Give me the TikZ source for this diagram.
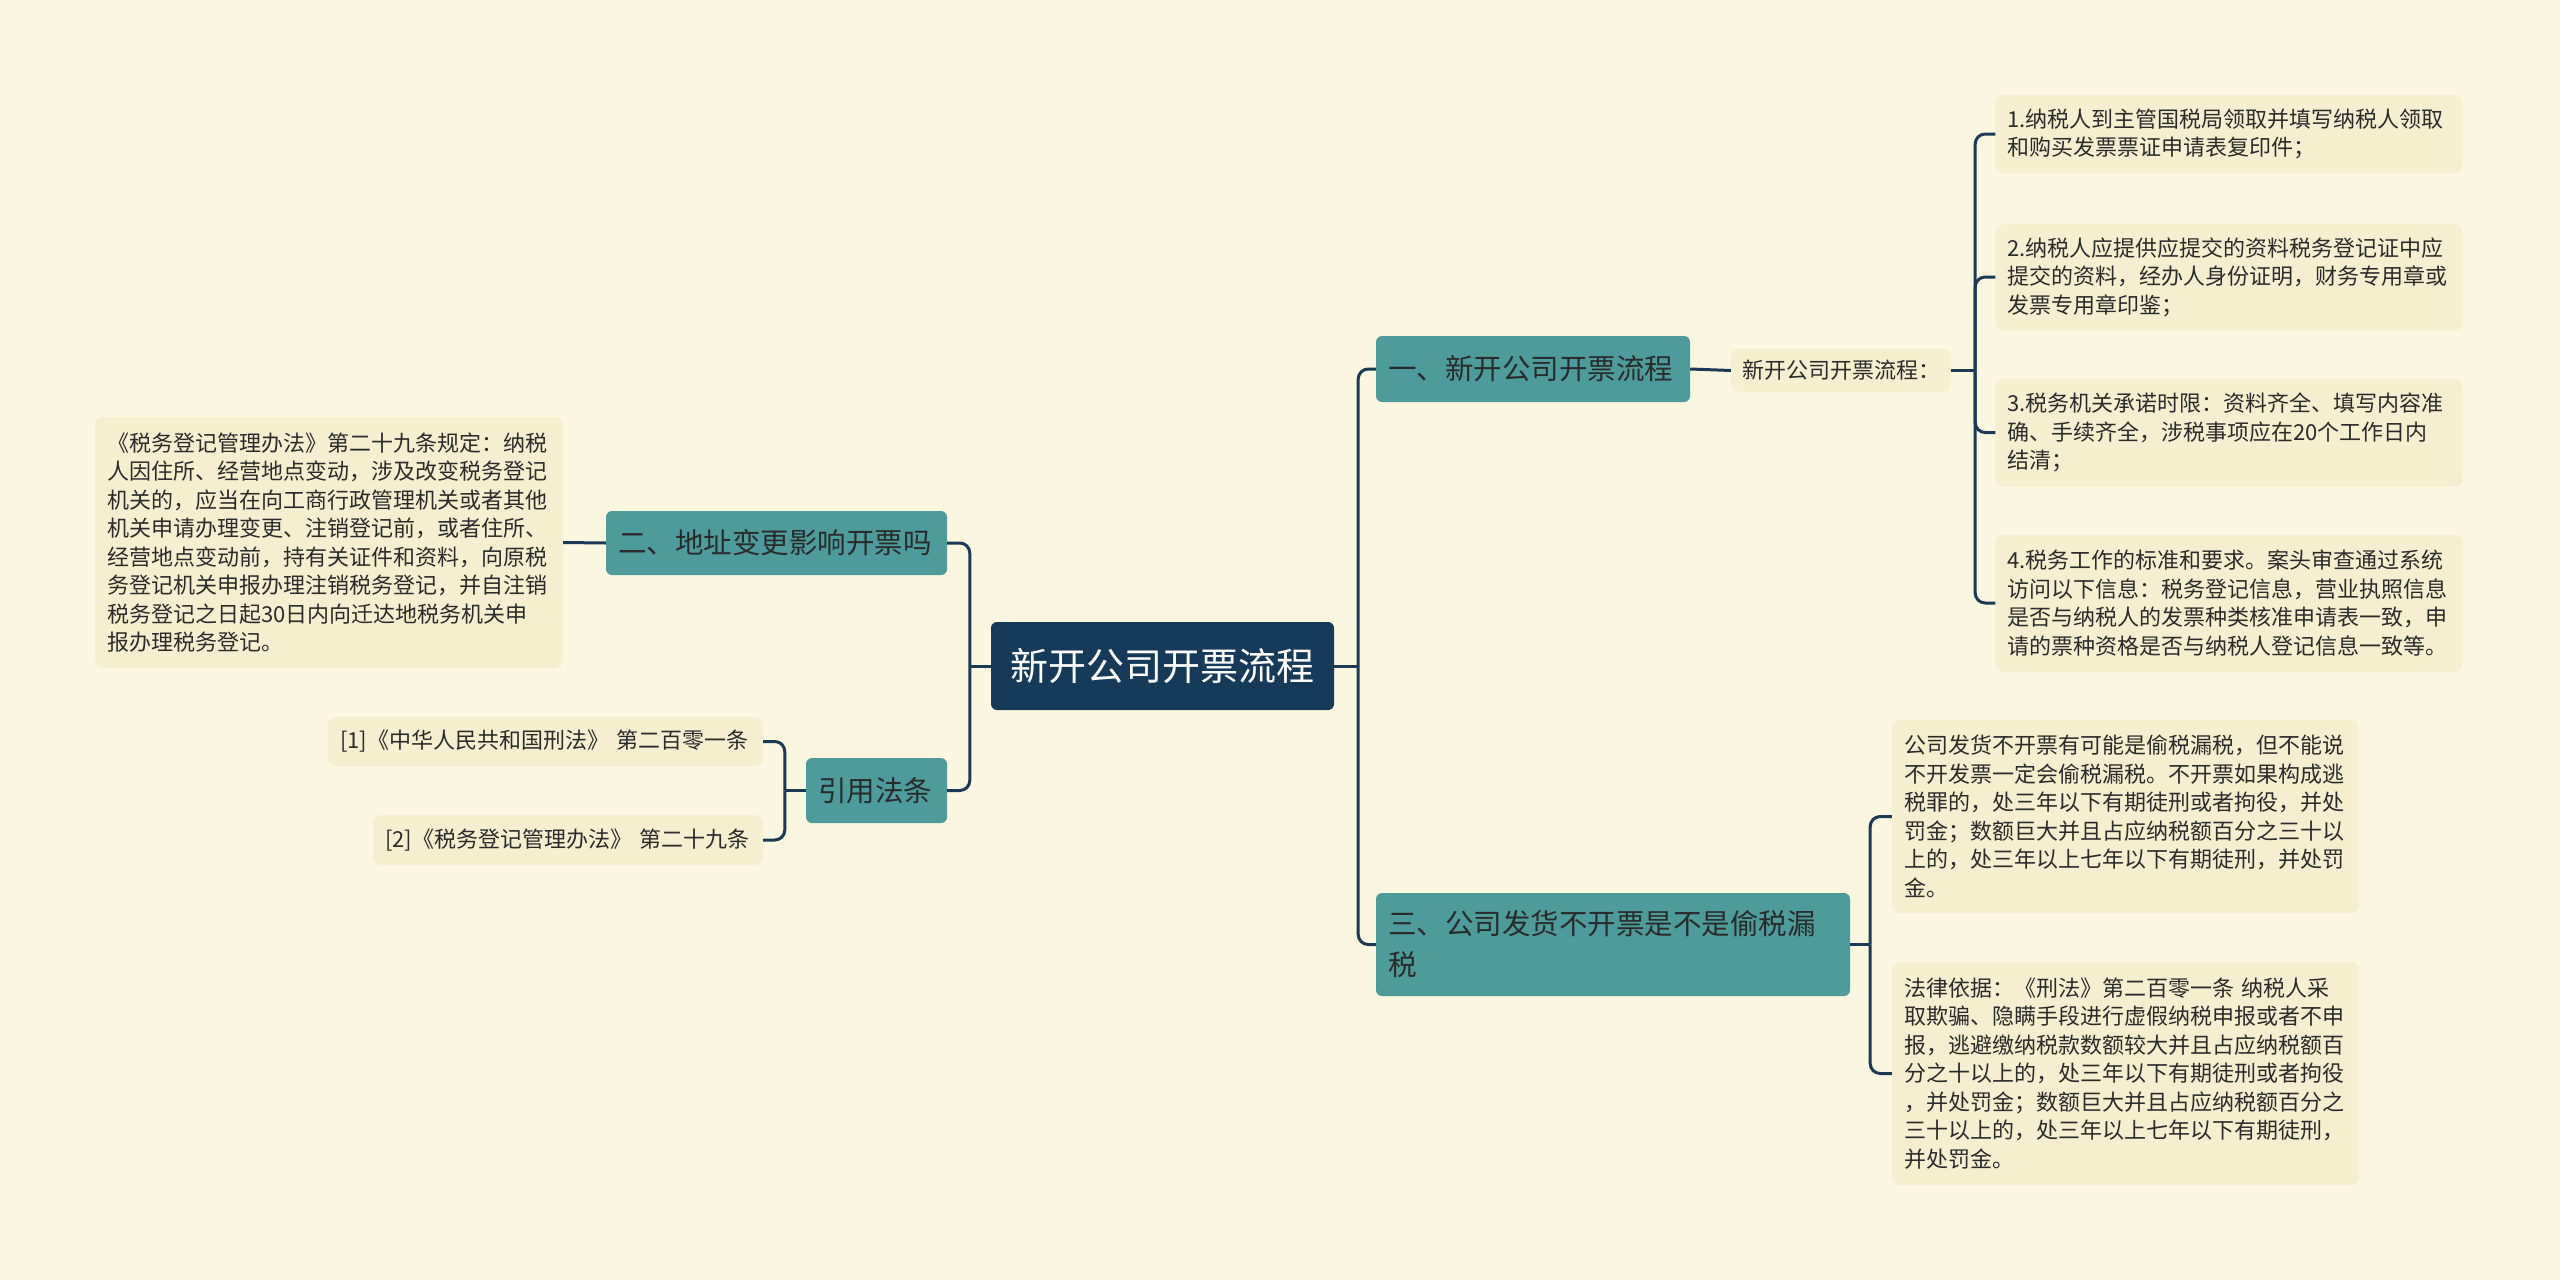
\documentclass[tikz,border=0pt]{standalone}
\usepackage{fontspec}
\setmainfont{Noto Sans CJK SC}
\usepackage{tikz}
\definecolor{bg}{HTML}{FBF6E0}
\definecolor{notefill}{HTML}{F5EFCF}
\definecolor{tealfill}{HTML}{4E9B9B}
\definecolor{navy}{HTML}{153A5A}
\definecolor{linec}{HTML}{1A3A55}
\definecolor{inkc}{HTML}{2B2B2B}
\tikzset{
  rootbox/.style={fill=navy, text=white, rounded corners=6pt, font=\fontsize{38}{44}\selectfont, inner sep=0pt},
  branch/.style={fill=tealfill, text=inkc, rounded corners=6pt, font=\fontsize{28.5}{41}\selectfont, align=left, inner xsep=12pt, inner ysep=0pt},
  note/.style={fill=notefill, text=inkc, rounded corners=8pt, font=\fontsize{22}{28.5}\selectfont, align=left, inner xsep=12pt, inner ysep=0pt},
  conn/.style={draw=linec, line width=3pt},
}

\begin{document}
\begin{tikzpicture}[x=1pt, y=-1pt]
  \fill[bg] (0,0) rectangle (2560,1280);
  \useasboundingbox (0,0) rectangle (2560,1280);

  % centre
  \node[rootbox, minimum width=343pt, minimum height=88pt] (R) at (1162.5,666) {新开公司开票流程};

  % right side
  \node[branch, minimum height=66pt, text width=290pt] (A) at (1533,369) {一、新开公司开票流程};
  \node[note, minimum height=43pt, inner xsep=11pt, text width=198pt] (A0) at (1841,370.5) {新开公司开票流程：};
  \node[note, minimum height=78pt, text width=443pt] (A1) at (2229,134) {1.纳税人到主管国税局领取并填写纳税人领取\\和购买发票票证申请表复印件；};
  \node[note, minimum height=106pt, text width=443pt] (A2) at (2229,277) {2.纳税人应提供应提交的资料税务登记证中应\\提交的资料，经办人身份证明，财务专用章或\\发票专用章印鉴；};
  \node[note, minimum height=108pt, text width=443pt] (A3) at (2229,432.5) {3.税务机关承诺时限：资料齐全、填写内容准\\确、手续齐全，涉税事项应在20个工作日内\\结清；};
  \node[note, minimum height=137pt, text width=443pt] (A4) at (2229,603) {4.税务工作的标准和要求。案头审查通过系统\\访问以下信息：税务登记信息，营业执照信息\\是否与纳税人的发票种类核准申请表一致，申\\请的票种资格是否与纳税人登记信息一致等。};

  \node[branch, minimum height=103pt, text width=450pt] (C) at (1613,944.5) {三、公司发货不开票是不是偷税漏\\税};
  \node[note, minimum height=193pt, text width=443pt] (C1) at (2125.5,816.5) {公司发货不开票有可能是偷税漏税，但不能说\\不开发票一定会偷税漏税。不开票如果构成逃\\税罪的，处三年以下有期徒刑或者拘役，并处\\罚金；数额巨大并且占应纳税额百分之三十以\\上的，处三年以上七年以下有期徒刑，并处罚\\金。};
  \node[note, minimum height=223pt, text width=443pt] (C2) at (2125.5,1073.5) {法律依据：《刑法》第二百零一条 纳税人采\\取欺骗、隐瞒手段进行虚假纳税申报或者不申\\报，逃避缴纳税款数额较大并且占应纳税额百\\分之十以上的，处三年以下有期徒刑或者拘役\\，并处罚金；数额巨大并且占应纳税额百分之\\三十以上的，处三年以上七年以下有期徒刑，\\并处罚金。};

  % left side
  \node[branch, minimum height=64pt, text width=317pt] (B) at (776.5,543) {二、地址变更影响开票吗};
  \node[note, minimum height=251pt, text width=444pt] (B1) at (329,542.5) {《税务登记管理办法》第二十九条规定：纳税\\人因住所、经营地点变动，涉及改变税务登记\\机关的，应当在向工商行政管理机关或者其他\\机关申请办理变更、注销登记前，或者住所、\\经营地点变动前，持有关证件和资料，向原税\\务登记机关申报办理注销税务登记，并自注销\\税务登记之日起30日内向迁达地税务机关申\\报办理税务登记。};

  \node[branch, minimum height=65pt, text width=117pt] (D) at (876.5,790.5) {引用法条};
  \node[note, minimum height=49pt, text width=411pt] (D1) at (545.5,741.5) {[1]《中华人民共和国刑法》 第二百零一条};
  \node[note, minimum height=50pt, text width=366pt] (D2) at (568,840) {[2]《税务登记管理办法》 第二十九条};

  % connectors
  \draw[conn] (R.east) -- ++(24,0) coordinate (rj);
  \draw[conn, rounded corners=10pt] (rj) |- (A.west);
  \draw[conn, rounded corners=10pt] (rj) |- (C.west);
  \draw[conn] (R.west) -- ++(-21,0) coordinate (lj);
  \draw[conn, rounded corners=10pt] (lj) |- (B.east);
  \draw[conn, rounded corners=10pt] (lj) |- (D.east);

  \draw[conn] (A.east) -- (A0.west);
  \draw[conn] (A0.east) -- ++(24,0) coordinate (aj);
  \foreach \n in {A1,A2,A3,A4}
    \draw[conn, rounded corners=10pt] (aj) |- (\n.west);

  \draw[conn] (C.east) -- ++(20,0) coordinate (cj);
  \foreach \n in {C1,C2}
    \draw[conn, rounded corners=10pt] (cj) |- (\n.west);

  \draw[conn] (B.west) -- (B1.east);
  \draw[conn] (D.west) -- ++(-21,0) coordinate (dj);
  \foreach \n in {D1,D2}
    \draw[conn, rounded corners=10pt] (dj) |- (\n.east);
\end{tikzpicture}
\end{document}
